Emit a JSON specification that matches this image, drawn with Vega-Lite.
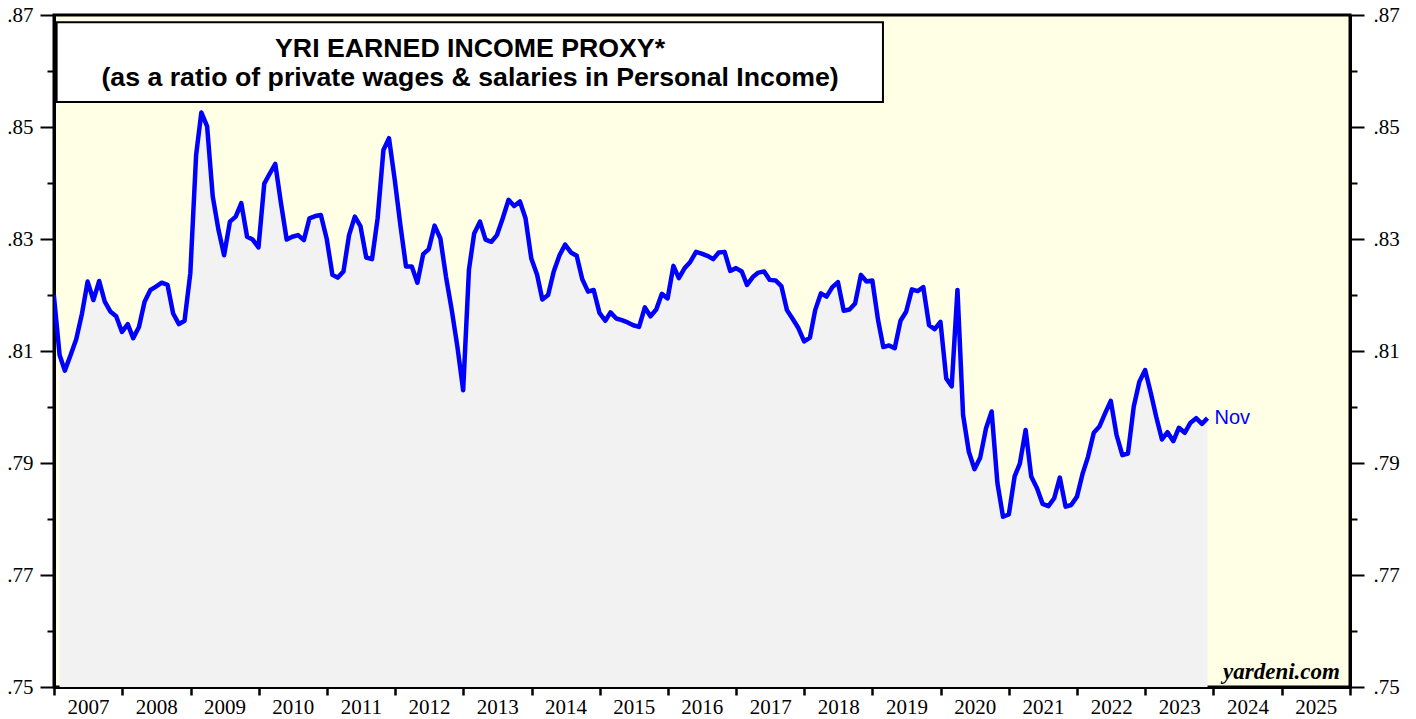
{
  "$schema": "https://vega.github.io/schema/vega-lite/v6.json",
  "width": 1296,
  "height": 672,
  "autosize": {"type": "none"},
  "padding": {"left": 54, "top": 15, "right": 66, "bottom": 32},
  "background": "white",
  "config": {"view": {"fill": "#FFFFE6", "stroke": "black", "strokeWidth": 3}},
  "data": {"values": [
    {"date":"2006-12-31","v":0.8200},
    {"date":"2007-01-31","v":0.8093},{"date":"2007-02-28","v":0.8065},{"date":"2007-03-31","v":0.8093},{"date":"2007-04-30","v":0.8121},{"date":"2007-05-31","v":0.8167},{"date":"2007-06-30","v":0.8224},{"date":"2007-07-31","v":0.8191},{"date":"2007-08-31","v":0.8225},{"date":"2007-09-30","v":0.8188},{"date":"2007-10-31","v":0.8170},{"date":"2007-11-30","v":0.8162},{"date":"2007-12-31","v":0.8134},
    {"date":"2008-01-31","v":0.8148},{"date":"2008-02-29","v":0.8123},{"date":"2008-03-31","v":0.8143},{"date":"2008-04-30","v":0.8188},{"date":"2008-05-31","v":0.8209},{"date":"2008-06-30","v":0.8215},{"date":"2008-07-31","v":0.8222},{"date":"2008-08-31","v":0.8218},{"date":"2008-09-30","v":0.8167},{"date":"2008-10-31","v":0.8148},{"date":"2008-11-30","v":0.8154},{"date":"2008-12-31","v":0.8239},
    {"date":"2009-01-31","v":0.8450},{"date":"2009-02-28","v":0.8526},{"date":"2009-03-31","v":0.8501},{"date":"2009-04-30","v":0.8376},{"date":"2009-05-31","v":0.8316},{"date":"2009-06-30","v":0.8271},{"date":"2009-07-31","v":0.8331},{"date":"2009-08-31","v":0.8340},{"date":"2009-09-30","v":0.8364},{"date":"2009-10-31","v":0.8304},{"date":"2009-11-30","v":0.8299},{"date":"2009-12-31","v":0.8285},
    {"date":"2010-01-31","v":0.8399},{"date":"2010-02-28","v":0.8416},{"date":"2010-03-31","v":0.8434},{"date":"2010-04-30","v":0.8365},{"date":"2010-05-31","v":0.8299},{"date":"2010-06-30","v":0.8304},{"date":"2010-07-31","v":0.8307},{"date":"2010-08-31","v":0.8298},{"date":"2010-09-30","v":0.8337},{"date":"2010-10-31","v":0.8341},{"date":"2010-11-30","v":0.8343},{"date":"2010-12-31","v":0.8301},
    {"date":"2011-01-31","v":0.8236},{"date":"2011-02-28","v":0.8231},{"date":"2011-03-31","v":0.8242},{"date":"2011-04-30","v":0.8307},{"date":"2011-05-31","v":0.8340},{"date":"2011-06-30","v":0.8323},{"date":"2011-07-31","v":0.8267},{"date":"2011-08-31","v":0.8264},{"date":"2011-09-30","v":0.8337},{"date":"2011-10-31","v":0.8459},{"date":"2011-11-30","v":0.8480},{"date":"2011-12-31","v":0.8405},
    {"date":"2012-01-31","v":0.8322},{"date":"2012-02-29","v":0.8251},{"date":"2012-03-31","v":0.8251},{"date":"2012-04-30","v":0.8222},{"date":"2012-05-31","v":0.8273},{"date":"2012-06-30","v":0.8282},{"date":"2012-07-31","v":0.8324},{"date":"2012-08-31","v":0.8301},{"date":"2012-09-30","v":0.8233},{"date":"2012-10-31","v":0.8173},{"date":"2012-11-30","v":0.8108},{"date":"2012-12-31","v":0.8030},
    {"date":"2013-01-31","v":0.8245},{"date":"2013-02-28","v":0.8310},{"date":"2013-03-31","v":0.8331},{"date":"2013-04-30","v":0.8299},{"date":"2013-05-31","v":0.8295},{"date":"2013-06-30","v":0.8307},{"date":"2013-07-31","v":0.8337},{"date":"2013-08-31","v":0.8370},{"date":"2013-09-30","v":0.8359},{"date":"2013-10-31","v":0.8367},{"date":"2013-11-30","v":0.8337},{"date":"2013-12-31","v":0.8265},
    {"date":"2014-01-31","v":0.8236},{"date":"2014-02-28","v":0.8192},{"date":"2014-03-31","v":0.8200},{"date":"2014-04-30","v":0.8242},{"date":"2014-05-31","v":0.8271},{"date":"2014-06-30","v":0.8290},{"date":"2014-07-31","v":0.8276},{"date":"2014-08-31","v":0.8270},{"date":"2014-09-30","v":0.8228},{"date":"2014-10-31","v":0.8206},{"date":"2014-11-30","v":0.8209},{"date":"2014-12-31","v":0.8168},
    {"date":"2015-01-31","v":0.8154},{"date":"2015-02-28","v":0.8169},{"date":"2015-03-31","v":0.8158},{"date":"2015-04-30","v":0.8155},{"date":"2015-05-31","v":0.8151},{"date":"2015-06-30","v":0.8146},{"date":"2015-07-31","v":0.8143},{"date":"2015-08-31","v":0.8178},{"date":"2015-09-30","v":0.8162},{"date":"2015-10-31","v":0.8174},{"date":"2015-11-30","v":0.8202},{"date":"2015-12-31","v":0.8194},
    {"date":"2016-01-31","v":0.8252},{"date":"2016-02-29","v":0.8230},{"date":"2016-03-31","v":0.8248},{"date":"2016-04-30","v":0.8259},{"date":"2016-05-31","v":0.8277},{"date":"2016-06-30","v":0.8274},{"date":"2016-07-31","v":0.8270},{"date":"2016-08-31","v":0.8264},{"date":"2016-09-30","v":0.8276},{"date":"2016-10-31","v":0.8277},{"date":"2016-11-30","v":0.8243},{"date":"2016-12-31","v":0.8248},
    {"date":"2017-01-31","v":0.8242},{"date":"2017-02-28","v":0.8218},{"date":"2017-03-31","v":0.8232},{"date":"2017-04-30","v":0.8240},{"date":"2017-05-31","v":0.8242},{"date":"2017-06-30","v":0.8227},{"date":"2017-07-31","v":0.8226},{"date":"2017-08-31","v":0.8216},{"date":"2017-09-30","v":0.8173},{"date":"2017-10-31","v":0.8157},{"date":"2017-11-30","v":0.8141},{"date":"2017-12-31","v":0.8117},
    {"date":"2018-01-31","v":0.8124},{"date":"2018-02-28","v":0.8173},{"date":"2018-03-31","v":0.8203},{"date":"2018-04-30","v":0.8197},{"date":"2018-05-31","v":0.8214},{"date":"2018-06-30","v":0.8223},{"date":"2018-07-31","v":0.8172},{"date":"2018-08-31","v":0.8174},{"date":"2018-09-30","v":0.8185},{"date":"2018-10-31","v":0.8236},{"date":"2018-11-30","v":0.8224},{"date":"2018-12-31","v":0.8226},
    {"date":"2019-01-31","v":0.8155},{"date":"2019-02-28","v":0.8107},{"date":"2019-03-31","v":0.8110},{"date":"2019-04-30","v":0.8105},{"date":"2019-05-31","v":0.8154},{"date":"2019-06-30","v":0.8170},{"date":"2019-07-31","v":0.8210},{"date":"2019-08-31","v":0.8207},{"date":"2019-09-30","v":0.8214},{"date":"2019-10-31","v":0.8146},{"date":"2019-11-30","v":0.8139},{"date":"2019-12-31","v":0.8152},
    {"date":"2020-01-31","v":0.8051},{"date":"2020-02-29","v":0.8037},{"date":"2020-03-31","v":0.8209},{"date":"2020-04-30","v":0.7986},{"date":"2020-05-31","v":0.7920},{"date":"2020-06-30","v":0.7889},{"date":"2020-07-31","v":0.7910},{"date":"2020-08-31","v":0.7962},{"date":"2020-09-30","v":0.7992},{"date":"2020-10-31","v":0.7864},{"date":"2020-11-30","v":0.7804},{"date":"2020-12-31","v":0.7808},
    {"date":"2021-01-31","v":0.7876},{"date":"2021-02-28","v":0.7899},{"date":"2021-03-31","v":0.7959},{"date":"2021-04-30","v":0.7876},{"date":"2021-05-31","v":0.7855},{"date":"2021-06-30","v":0.7827},{"date":"2021-07-31","v":0.7823},{"date":"2021-08-31","v":0.7837},{"date":"2021-09-30","v":0.7874},{"date":"2021-10-31","v":0.7822},{"date":"2021-11-30","v":0.7825},{"date":"2021-12-31","v":0.7840},
    {"date":"2022-01-31","v":0.7882},{"date":"2022-02-28","v":0.7911},{"date":"2022-03-31","v":0.7954},{"date":"2022-04-30","v":0.7965},{"date":"2022-05-31","v":0.7989},{"date":"2022-06-30","v":0.8011},{"date":"2022-07-31","v":0.7950},{"date":"2022-08-31","v":0.7914},{"date":"2022-09-30","v":0.7917},{"date":"2022-10-31","v":0.8001},{"date":"2022-11-30","v":0.8045},{"date":"2022-12-31","v":0.8066},
    {"date":"2023-01-31","v":0.8024},{"date":"2023-02-28","v":0.7983},{"date":"2023-03-31","v":0.7942},{"date":"2023-04-30","v":0.7955},{"date":"2023-05-31","v":0.7939},{"date":"2023-06-30","v":0.7963},{"date":"2023-07-31","v":0.7954},{"date":"2023-08-31","v":0.7972},{"date":"2023-09-30","v":0.7980},{"date":"2023-10-31","v":0.7970},{"date":"2023-11-30","v":0.7980}
  ]},
  "resolve": {"axis": {"y": "independent"}},
  "layer": [
    {
      "transform": [{"filter": {"field": "date", "gte": {"year": 2007, "month": 1, "date": 1}}}],
      "mark": {"type": "area", "color": "#F2F2F2", "clip": true},
      "encoding": {
        "x": {"field": "date", "type": "temporal",
          "scale": {"domain": [{"year": 2007, "month": 1, "date": 1}, {"year": 2026, "month": 1, "date": 1}], "nice": false},
          "axis": {"title": null, "orient": "bottom",
            "values": [{"year": 2007, "month": 1, "date": 1}, {"year": 2008, "month": 1, "date": 1}, {"year": 2009, "month": 1, "date": 1}, {"year": 2010, "month": 1, "date": 1}, {"year": 2011, "month": 1, "date": 1}, {"year": 2012, "month": 1, "date": 1}, {"year": 2013, "month": 1, "date": 1}, {"year": 2014, "month": 1, "date": 1}, {"year": 2015, "month": 1, "date": 1}, {"year": 2016, "month": 1, "date": 1}, {"year": 2017, "month": 1, "date": 1}, {"year": 2018, "month": 1, "date": 1}, {"year": 2019, "month": 1, "date": 1}, {"year": 2020, "month": 1, "date": 1}, {"year": 2021, "month": 1, "date": 1}, {"year": 2022, "month": 1, "date": 1}, {"year": 2023, "month": 1, "date": 1}, {"year": 2024, "month": 1, "date": 1}, {"year": 2025, "month": 1, "date": 1}, {"year": 2026, "month": 1, "date": 1}],
            "labelExpr": "year(datum.value) < 2026 ? timeFormat(datum.value, '%Y') : ''",
            "labelOffset": 34, "labelAlign": "center", "labelFont": "Liberation Serif", "labelFontSize": 21,
            "labelColor": "black", "tickSize": 8, "tickWidth": 2.5, "tickColor": "black",
            "domainColor": "black", "domainWidth": 3, "labelPadding": 1, "labelOverlap": false,
            "labelBound": false, "labelFlush": false, "grid": false}},
        "y": {"field": "v", "type": "quantitative",
          "scale": {"domain": [0.75, 0.87], "zero": false, "nice": false},
          "axis": {"title": null, "orient": "left",
            "values": [0.75, 0.76, 0.77, 0.78, 0.79, 0.80, 0.81, 0.82, 0.83, 0.84, 0.85, 0.86, 0.87],
            "labelExpr": "round(datum.value*100) % 2 == 1 ? replace(format(datum.value, '.2f'), '0.', '.') : ''",
            "tickSize": {"condition": {"test": "round(datum.value*100) % 2 == 1", "value": 14}, "value": 7},
            "labelPadding": 7, "labelFont": "Liberation Serif", "labelFontSize": 21, "labelColor": "black",
            "tickWidth": 2, "tickColor": "black", "domainWidth": 3, "domainColor": "black",
            "grid": false, "labelOverlap": false, "labelBound": false, "labelFlush": false}},
        "y2": {"datum": 0.75}
      }
    },
    {
      "mark": {"type": "line", "color": "#0000FF", "strokeWidth": 4.5, "strokeJoin": "round", "clip": true},
      "encoding": {
        "x": {"field": "date", "type": "temporal"},
        "y": {"field": "v", "type": "quantitative",
          "scale": {"domain": [0.75, 0.87], "zero": false, "nice": false},
          "axis": {"title": null, "orient": "right",
            "values": [0.75, 0.76, 0.77, 0.78, 0.79, 0.80, 0.81, 0.82, 0.83, 0.84, 0.85, 0.86, 0.87],
            "labelExpr": "round(datum.value*100) % 2 == 1 ? replace(format(datum.value, '.2f'), '0.', '.') : ''",
            "tickSize": {"condition": {"test": "round(datum.value*100) % 2 == 1", "value": 14}, "value": 7},
            "labelPadding": 9, "labelFont": "Liberation Serif", "labelFontSize": 21, "labelColor": "black",
            "tickWidth": 2, "tickColor": "black", "domainWidth": 3, "domainColor": "black",
            "grid": false, "labelOverlap": false, "labelBound": false, "labelFlush": false}}
      }
    },
    {
      "data": {"values": [{}]},
      "mark": {"type": "rect", "fill": "white", "stroke": "black", "strokeWidth": 2},
      "encoding": {
        "x": {"datum": {"year": 2007, "month": 1, "date": 15}, "type": "temporal"},
        "x2": {"datum": {"year": 2019, "month": 2, "date": 26}},
        "y": {"datum": 0.8687, "type": "quantitative", "axis": null},
        "y2": {"datum": 0.85446}
      }
    },
    {
      "data": {"values": [{}]},
      "mark": {"type": "text", "text": "YRI EARNED INCOME PROXY*", "font": "Liberation Sans", "fontWeight": "bold", "fontSize": 26.7, "align": "center", "baseline": "alphabetic", "color": "black"},
      "encoding": {
        "x": {"datum": {"year": 2013, "month": 2, "date": 6}, "type": "temporal"},
        "y": {"datum": 0.8625, "type": "quantitative", "axis": null}
      }
    },
    {
      "data": {"values": [{}]},
      "mark": {"type": "text", "text": "(as a ratio of private wages & salaries in Personal Income)", "font": "Liberation Sans", "fontWeight": "bold", "fontSize": 26.7, "align": "center", "baseline": "alphabetic", "color": "black"},
      "encoding": {
        "x": {"datum": {"year": 2013, "month": 2, "date": 6}, "type": "temporal"},
        "y": {"datum": 0.8573, "type": "quantitative", "axis": null}
      }
    },
    {
      "transform": [{"filter": "year(datum.date) == 2023 && month(datum.date) == 10"}],
      "mark": {"type": "text", "text": "Nov", "font": "Liberation Sans", "fontSize": 20, "align": "left", "baseline": "middle", "dx": 7, "color": "#0000FF"},
      "encoding": {
        "x": {"field": "date", "type": "temporal"},
        "y": {"field": "v", "type": "quantitative", "axis": null}
      }
    },
    {
      "data": {"values": [{}]},
      "mark": {"type": "text", "text": "yardeni.com", "font": "Liberation Serif", "fontWeight": "bold", "fontStyle": "italic", "fontSize": 23, "align": "right", "baseline": "alphabetic", "color": "black"},
      "encoding": {
        "x": {"datum": {"year": 2025, "month": 11, "date": 8}, "type": "temporal"},
        "y": {"datum": 0.7514, "type": "quantitative", "axis": null}
      }
    }
  ]
}
